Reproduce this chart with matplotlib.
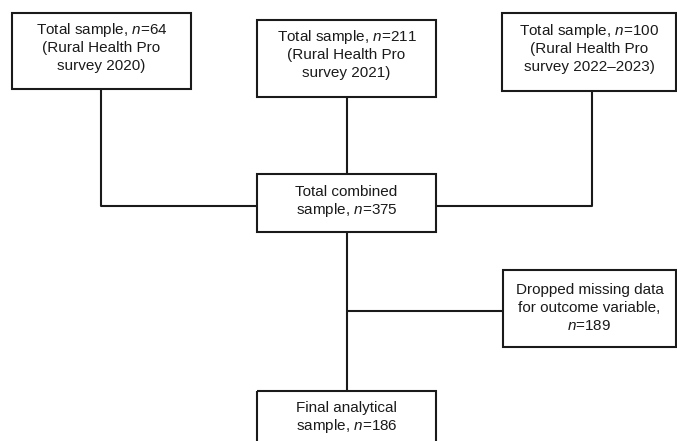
import matplotlib
matplotlib.use("Agg")
import matplotlib.pyplot as plt
from matplotlib.patches import Rectangle

plt.rcParams['font.family'] = ['Liberation Sans', 'DejaVu Sans']
plt.rcParams['mathtext.fontset'] = 'custom'
plt.rcParams['mathtext.rm'] = 'Liberation Sans'
plt.rcParams['mathtext.it'] = 'Liberation Sans:italic'

# Data
survey_years = ["2020", "2021", "2022\u20132023"]
survey_n = [64, 211, 100]
combined_n = 375
dropped_n = 189
final_n = 186

W, H = 677, 441
fig = plt.figure(figsize=(W / 100, H / 100), dpi=100)
ax = fig.add_axes([0, 0, 1, 1])
ax.set_xlim(0, W)
ax.set_ylim(H, 0)
ax.axis('off')

LW = 1.5
FS = 11

def box(x0, y0, x1, y1, lines, ty0, dy=18):
    ax.add_patch(Rectangle((x0, y0), x1 - x0, y1 - y0, fill=False,
                           edgecolor='#1a1a1a', lw=LW, zorder=3))
    cx = (x0 + x1) / 2
    for i, t in enumerate(lines):
        ax.text(cx, ty0 + i * dy, t, ha='center', va='center',
                fontsize=FS, color='#1a1a1a', zorder=4)

def line(xs, ys):
    ax.plot(xs, ys, color='#1a1a1a', lw=LW, solid_capstyle='butt', zorder=2)

nit = r'$\mathit{n}$'

# Top boxes
tops = [(12, 13, 191, 89, 30), (257, 20, 436, 97, 37), (502, 13, 676, 91, 31)]
for (x0, y0, x1, y1, ty), yr, n in zip(tops, survey_years, survey_n):
    box(x0, y0, x1, y1,
        [f"Total sample, {nit}={n}", "(Rural Health Pro", f"survey {yr})"], ty)

# Combined box
box(257, 174, 436, 232, ["Total combined", f"sample, {nit}={combined_n}"], 192)

# Dropped box
box(503, 270, 676, 347, ["Dropped missing data", "for outcome variable,",
                         f"{nit}={dropped_n}"], 290)

# Final box
box(257, 391, 436, 460, ["Final analytical", f"sample, {nit}={final_n}"], 408)

# Connectors
line([101, 101, 257], [89, 206, 206])
line([347, 347], [97, 174])
line([592, 592, 436], [91, 206, 206])
line([347, 347], [232, 391])
line([347, 503], [311, 311])

fig.savefig("out.png", dpi=100)
